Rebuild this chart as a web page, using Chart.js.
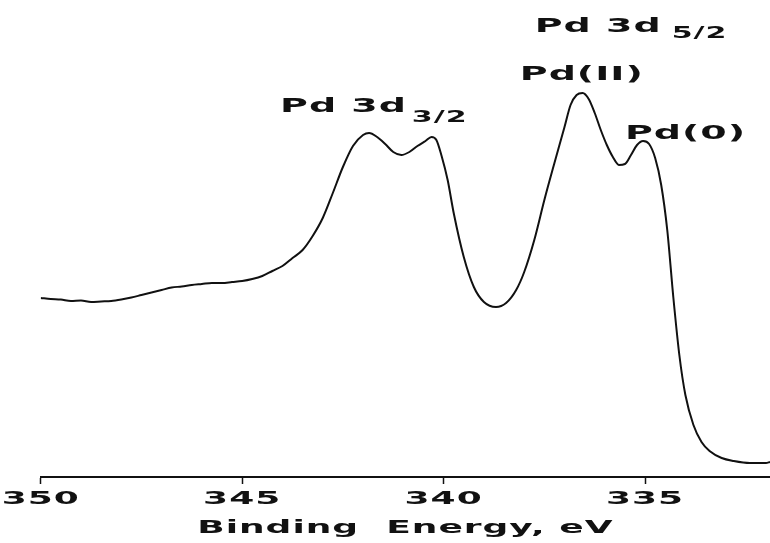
<!DOCTYPE html>
<html>
<head>
<meta charset="utf-8">
<script src="https://cdn.jsdelivr.net/npm/chart.js@4/dist/chart.umd.min.js"></script>
<style>
  html, body { margin: 0; padding: 0; background: #fff; }
  #wrap { width: 770px; height: 543px; }
</style>
</head>
<body>
<div id="wrap"><canvas id="xps" width="770" height="543"></canvas></div>
<script>
// Pd 3d XPS spectrum, binding energy (eV) vs intensity (arb. units)
const energy = [
  350.0, 349.75, 349.5, 349.25, 349.0, 348.75, 348.5, 348.25, 348.0, 347.75,
  347.5, 347.25, 347.0, 346.75, 346.5, 346.25, 346.0, 345.75, 345.5, 345.25,
  345.0, 344.75, 344.5, 344.25, 344.0, 343.75, 343.5, 343.25, 343.0, 342.75,
  342.5, 342.25, 342.0, 341.85, 341.65, 341.45, 341.25, 341.05, 340.85, 340.65,
  340.45, 340.3, 340.18, 340.05, 339.9, 339.75, 339.5, 339.25, 339.0, 338.7,
  338.45, 338.2, 338.0, 337.75, 337.5, 337.25, 337.0, 336.85, 336.7, 336.55,
  336.4, 336.25, 336.1, 335.95, 335.8, 335.65, 335.5, 335.35, 335.2, 335.05,
  334.9, 334.75, 334.6, 334.45, 334.3, 334.15, 334.0, 333.8, 333.6, 333.4,
  333.1, 332.8, 332.4, 332.0, 331.9
];
const intensity = [
  179, 178, 177.5, 176, 176.5, 175, 175.5, 176, 177.5, 179.5,
  182, 184.5, 187, 189.5, 190.5, 192, 193, 194, 194, 195,
  196, 198, 201, 206, 211, 219, 227, 241, 259, 284,
  310, 331, 342, 344, 340, 333, 325, 322, 325, 331,
  336, 340, 337, 321, 297, 264, 220, 190, 175, 170,
  174, 187, 205, 237, 277, 314, 350, 372, 382, 384,
  378, 364, 347, 332, 320, 312, 313, 322, 332, 336,
  333, 319, 292, 247, 180, 122, 82, 52, 35, 26,
  19, 16, 14, 14, 15
];
const energyTicks = [350, 345, 340, 335];

// peak labels, anchored in data units (left edge / baseline)
const peakLabels = [
  { text: 'Pd 3d', x: 344.06, y: 365, size: 19 },
  { text: '3/2',   x: 340.79, y: 355, size: 15 },
  { text: 'Pd 3d', x: 337.74, y: 445, size: 19 },
  { text: '5/2',   x: 334.34, y: 439, size: 15 },
  { text: 'Pd(II)', x: 338.11, y: 397, size: 19 },
  { text: 'Pd(0)', x: 335.5,  y: 338, size: 19 }
];

const INK = '#111';
const FONT = '"DejaVu Sans", sans-serif';

// old plotter lettering is wide: stretch every text draw sideways
const WIDE = 2.0;
const SPACING = '0.5px';
function widenText(ctx) {
  const fill = ctx.fillText;
  const measure = ctx.measureText;
  ctx.fillText = function (text, x, y, maxWidth) {
    this.save();
    this.letterSpacing = SPACING;
    this.translate(x, y);
    this.scale(WIDE, 1);
    if (maxWidth === undefined) fill.call(this, text, 0, 0);
    else fill.call(this, text, 0, 0, maxWidth / WIDE);
    this.restore();
  };
  ctx.measureText = function (text) {
    this.save();
    this.letterSpacing = SPACING;
    const m = measure.call(this, text);
    this.restore();
    return {
      width: m.width * WIDE,
      actualBoundingBoxAscent: m.actualBoundingBoxAscent,
      actualBoundingBoxDescent: m.actualBoundingBoxDescent
    };
  };
}

const peakLabelPlugin = {
  id: 'peakLabels',
  afterDatasetsDraw(chart) {
    const { ctx, scales: { x, y } } = chart;
    ctx.save();
    ctx.fillStyle = INK;
    ctx.textAlign = 'left';
    ctx.textBaseline = 'alphabetic';
    peakLabels.forEach(l => {
      ctx.font = 'bold ' + l.size + 'px ' + FONT;
      ctx.fillText(l.text, x.getPixelForValue(l.x), y.getPixelForValue(l.y));
    });
    ctx.restore();
  }
};

const canvas = document.getElementById('xps');
widenText(canvas.getContext('2d'));

const points = energy.map((e, i) => ({ x: e, y: intensity[i] }));

new Chart(canvas, {
  type: 'line',
  data: {
    datasets: [{
      data: points,
      borderColor: INK,
      borderWidth: 2,
      pointRadius: 0,
      fill: false,
      cubicInterpolationMode: 'monotone'
    }]
  },
  options: {
    responsive: false,
    animation: false,
    devicePixelRatio: 1,
    layout: { padding: { left: 40.7, right: 0, top: 0, bottom: 0 } },
    plugins: { legend: { display: false }, tooltip: { enabled: false } },
    scales: {
      x: {
        type: 'linear',
        reverse: true,
        min: 331.9,
        max: 350,
        border: { display: true, color: INK, width: 2 },
        grid: { drawOnChartArea: false, drawTicks: true, tickLength: 7, tickColor: INK, tickWidth: 1.5 },
        afterBuildTicks: s => { s.ticks = energyTicks.map(v => ({ value: v })); },
        afterFit: s => { s.paddingLeft = 0; s.paddingRight = 0; s.height = 66; },
        ticks: {
          color: INK,
          padding: 5,
          maxRotation: 0,
          autoSkip: false,
          font: { family: FONT, size: 18, weight: 'bold' },
          callback: v => String(v)
        },
        title: {
          display: true,
          text: 'Binding  Energy, eV',
          color: INK,
          padding: { top: 0, bottom: 4 },
          font: { family: FONT, size: 18, weight: 'bold' }
        }
      },
      y: {
        display: false,
        min: 0,
        max: 477
      }
    }
  },
  plugins: [peakLabelPlugin]
});
</script>
</body>
</html>
